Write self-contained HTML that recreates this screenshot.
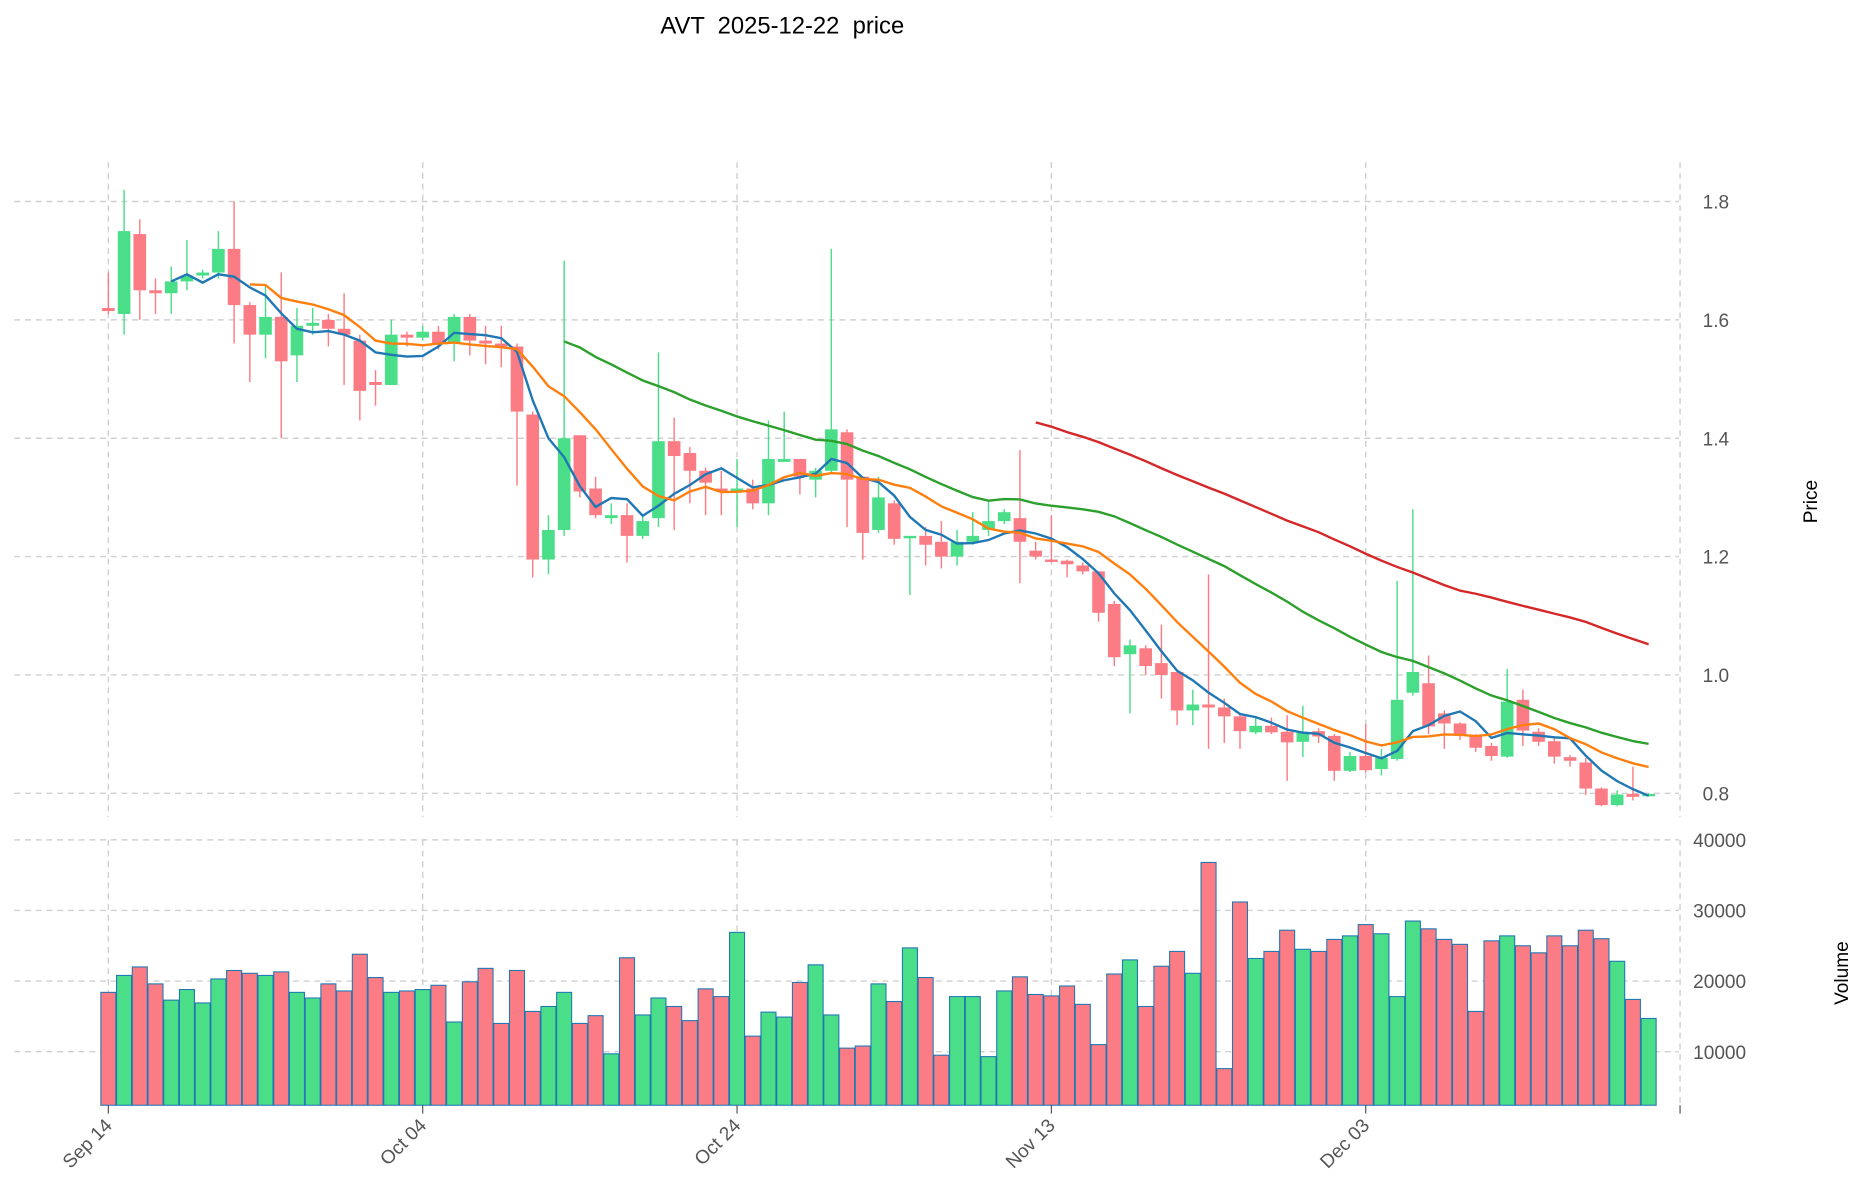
<!DOCTYPE html>
<html><head><meta charset="utf-8"><style>
html,body{margin:0;padding:0;background:#fff;}
svg{display:block;font-family:"Liberation Sans",sans-serif;}
</style></head><body>
<svg id="chart" width="1867" height="1202" viewBox="0 0 1568 1009" xmlns="http://www.w3.org/2000/svg">
<text x="657" y="28" font-size="20" text-anchor="middle" fill="#000" style="white-space:pre" xml:space="preserve">AVT  2025-12-22  price</text>
<g id="grid"></g>
<g id="vol"></g>
<g id="candles"></g>
<g id="mas"></g>
<g id="axes"></g>
<text transform="translate(1526,421) rotate(-90)" font-size="16" text-anchor="middle" fill="#000">Price</text>
<text transform="translate(1552,817) rotate(-90)" font-size="16" text-anchor="middle" fill="#000">Volume</text>
</svg>
<script>
const opens=[1.62,1.61,1.745,1.65,1.645,1.665,1.675,1.68,1.72,1.625,1.575,1.605,1.54,1.59,1.60,1.585,1.565,1.495,1.49,1.575,1.57,1.58,1.56,1.605,1.565,1.56,1.555,1.44,1.195,1.245,1.405,1.315,1.265,1.27,1.235,1.265,1.395,1.375,1.345,1.315,1.31,1.315,1.29,1.36,1.365,1.33,1.345,1.41,1.335,1.245,1.29,1.235,1.235,1.225,1.20,1.225,1.245,1.26,1.265,1.21,1.195,1.193,1.185,1.175,1.12,1.035,1.045,1.02,1.005,0.94,0.95,0.945,0.93,0.903,0.914,0.904,0.887,0.905,0.897,0.838,0.863,0.841,0.858,0.970,0.986,0.935,0.918,0.897,0.880,0.862,0.958,0.904,0.888,0.861,0.852,0.808,0.780,0.799,0.796];
const closes=[1.615,1.75,1.65,1.645,1.665,1.675,1.68,1.72,1.625,1.575,1.605,1.53,1.59,1.595,1.585,1.575,1.48,1.49,1.575,1.57,1.58,1.56,1.605,1.565,1.56,1.555,1.445,1.195,1.245,1.40,1.31,1.27,1.27,1.235,1.26,1.395,1.37,1.345,1.325,1.31,1.315,1.29,1.365,1.365,1.335,1.345,1.415,1.33,1.24,1.30,1.23,1.235,1.22,1.20,1.225,1.235,1.26,1.275,1.225,1.20,1.192,1.187,1.175,1.105,1.03,1.05,1.015,1.0,0.94,0.95,0.945,0.93,0.905,0.914,0.903,0.886,0.904,0.896,0.838,0.863,0.839,0.860,0.958,1.005,0.913,0.918,0.897,0.877,0.863,0.955,0.906,0.887,0.862,0.855,0.808,0.780,0.798,0.794,0.799];
const highs=[1.68,1.82,1.77,1.67,1.69,1.735,1.685,1.75,1.80,1.63,1.66,1.68,1.62,1.62,1.61,1.645,1.575,1.515,1.60,1.58,1.59,1.59,1.61,1.61,1.59,1.59,1.56,1.445,1.27,1.70,1.405,1.335,1.29,1.29,1.27,1.545,1.435,1.385,1.35,1.345,1.365,1.33,1.43,1.445,1.365,1.35,1.72,1.415,1.335,1.335,1.295,1.235,1.25,1.26,1.245,1.275,1.295,1.28,1.38,1.225,1.27,1.195,1.19,1.175,1.125,1.06,1.05,1.085,1.0,0.975,1.17,0.96,0.935,0.927,0.928,0.932,0.948,0.91,0.90,0.87,0.917,0.875,1.159,1.28,1.033,0.94,0.92,0.90,0.885,1.01,0.975,0.91,0.895,0.865,0.86,0.81,0.805,0.845,0.80];
const lows=[1.61,1.575,1.60,1.61,1.61,1.65,1.67,1.67,1.56,1.495,1.535,1.40,1.495,1.575,1.555,1.49,1.43,1.455,1.49,1.555,1.565,1.55,1.53,1.54,1.525,1.52,1.32,1.165,1.17,1.235,1.30,1.265,1.255,1.19,1.23,1.25,1.245,1.29,1.27,1.27,1.25,1.28,1.27,1.36,1.305,1.30,1.34,1.25,1.195,1.24,1.22,1.135,1.185,1.18,1.185,1.22,1.235,1.255,1.155,1.195,1.19,1.165,1.17,1.09,1.015,0.935,1.0,0.96,0.915,0.915,0.875,0.885,0.875,0.90,0.90,0.821,0.861,0.885,0.821,0.836,0.835,0.83,0.855,0.965,0.90,0.875,0.89,0.87,0.855,0.86,0.88,0.88,0.85,0.845,0.797,0.778,0.778,0.788,0.795];
const volumes=[18400,20800,22000,19600,17300,18800,16900,20300,21500,21100,20800,21300,18400,17600,19600,18600,23800,20500,18400,18600,18800,19400,14200,19900,21800,14000,21500,15700,16400,18400,14000,15100,9700,23300,15200,17600,16400,14400,18900,17800,26900,12200,15600,14900,19800,22300,15200,10500,10800,19600,17100,24700,20500,9500,17800,17800,9300,18600,20600,18100,17900,19300,16700,11000,21000,23000,16400,22100,24200,21100,36800,7600,31200,23200,24200,27200,24500,24200,25900,26400,28000,26700,17800,28500,27400,25900,25200,15700,25700,26400,25000,24000,26400,25000,27200,26000,22800,17400,14700];
const maWindows=[5,10,30,60];
const maColors=["#1f77b4","#ff7f0e","#2ca02c","#d62728"];
const priceTicks=[1.8,1.6,1.4,1.2,1.0,0.8];
const volTicks=[40000,30000,20000,10000];
const dateLabels=["Sep 14","Oct 04","Oct 24","Nov 13","Dec 03",""];
const dateTickDays=[0,20,40,60,80,100];

const NS="http://www.w3.org/2000/svg";
const xDay=d=>91+d*13.2;
const yPrice=p=>169+(1.8-p)*497;
const yVol=v=>Math.min(928,883-(v-10000)*0.00593);
function mk(tag,attrs,parent){const e=document.createElementNS(NS,tag);for(const k in attrs)e.setAttribute(k,attrs[k]);parent.appendChild(e);return e;}
const grid=document.getElementById('grid'),axes=document.getElementById('axes');
const gs={stroke:"#d0d0d0","stroke-width":1.2,"stroke-dasharray":"5,4"};
priceTicks.forEach(p=>{
  const l=mk('line',Object.assign({x1:12,x2:1410,y1:yPrice(p),y2:yPrice(p)},gs),grid);
  
  
  const t=mk('text',{x:1430,y:yPrice(p)+6,"font-size":16,fill:"#555"},axes);
  t.textContent=p.toFixed(1);
  
  
});
volTicks.forEach(v=>{
  const l=mk('line',Object.assign({x1:12,x2:1410,y1:yVol(v),y2:yVol(v)},gs),grid);
  
  
  const t=mk('text',{x:1422,y:yVol(v)+6,"font-size":16,fill:"#555"},axes);
  t.textContent=String(v);
  
  
});
dateTickDays.forEach((d,i)=>{
  const x=xDay(d);
  [[136,686],[705,928]].forEach(r=>{
    const l=mk('line',Object.assign({x1:x,x2:x,y1:r[0],y2:r[1]},gs),grid);
    
    
  });
  const tk=mk('line',{x1:x,x2:x,y1:928,y2:935,stroke:"#555","stroke-width":1},axes);
  
  
  if(dateLabels[i]){
    const t=mk('text',{transform:`translate(${x+4},${946}) rotate(-45)`,"font-size":16,fill:"#555","text-anchor":"end"},axes);
    t.textContent=dateLabels[i];
    
    
  }
});
const G="#4ade88",R="#fb7c84";
const vol=document.getElementById('vol'),cg=document.getElementById('candles');
closes.forEach((c,i)=>{
  const up=c>=opens[i],col=up?G:R,x=xDay(i);
  const top=yVol(volumes[i]);
  const b=mk('rect',{x:x-6.3,y:top,width:12.6,height:928-top,fill:col,stroke:"#1f77b4","stroke-width":0.9},vol);
  
  
  const w=mk('line',{x1:x,x2:x,y1:yPrice(highs[i]),y2:yPrice(lows[i]),stroke:col,"stroke-width":1.2},cg);
  
  
  const y1=yPrice(Math.max(c,opens[i])),y2=yPrice(Math.min(c,opens[i]));
  const r=mk('rect',{x:x-5.3,y:y1,width:10.6,height:Math.max(2,y2-y1),fill:col},cg);
  
  
});
const mg=document.getElementById('mas');
maWindows.forEach((w,k)=>{
  const pts=[];
  for(let i=w-1;i<closes.length;i++){let s=0;for(let j=i-w+1;j<=i;j++)s+=closes[j];pts.push(xDay(i).toFixed(1)+","+yPrice(s/w).toFixed(1));}
  const p=mk('polyline',{points:pts.join(' '),fill:"none",stroke:maColors[k],"stroke-width":2},mg);
  
  
});
</script>
</body></html>
